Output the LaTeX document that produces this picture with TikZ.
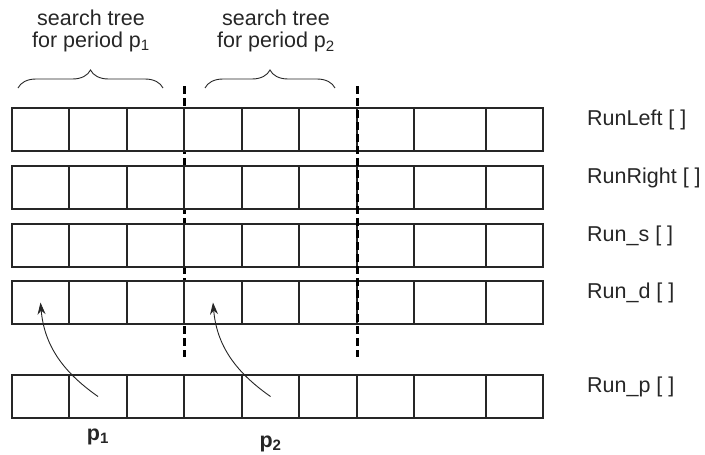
\documentclass[tikz,border=0pt]{standalone}
\usepackage{fontspec}
\setmainfont{Liberation Sans}
\usetikzlibrary{arrows.meta}
\usetikzlibrary{decorations.pathreplacing}
\usetikzlibrary{calc,positioning}

\begin{document}
\begin{tikzpicture}[x=1pt, y=1pt]
	\tikzstyle{cell}=[draw=black!85, fill=white, line width=1.1pt, rectangle,
	inner sep=0, outer sep=0, minimum height=43pt, anchor=north west]
	\tikzstyle{txt}=[inner sep=0, font=\fontsize{21.5}{22}\selectfont, text=black!85]
	\tikzstyle{divider}=[black, line width=3pt, dash pattern=on 8pt off 4pt]
	\tikzstyle{link}=[black!85, line width=0.9pt, -{Stealth[length=12pt, width=8pt]}]
	\tikzstyle{curly}=[black!85, line width=0.9pt, decorate,
	decoration={brace, amplitude=18pt}]
	\useasboundingbox (0,0) rectangle (705,-455);

	% first divider goes under the cells
	\coordinate (div1top) at (184,-86);
	\coordinate (div1bot) at (184,-357);
	\draw[divider] (div1top) -- (div1bot);

	\foreach \r/\top in {1/108, 2/166, 3/224, 4/281, 5/375} {
		\foreach \c/\xa/\xb in {1/12/69, 2/69/127, 3/127/184, 4/184/242, 5/242/299,
			6/299/357, 7/357/414, 8/414/486, 9/486/543} {
			\pgfmathsetmacro\w{\xb-\xa}
			\node[cell, minimum width=\w pt] (r\r-\c) at (\xa,-\top) {};
		}
	}

	% second divider goes over them
	\draw[divider] ([yshift=22pt]r1-7.north west) -- ([yshift=-33pt]r4-7.south west);

	\node[txt, anchor=base west] (runleft) at ([xshift=44pt, yshift=4pt]r1-9.east) {RunLeft [ ]};
	\node[txt, anchor=base west] (runright) at ([xshift=44pt, yshift=4pt]r2-9.east) {RunRight [ ]};
	\node[txt, anchor=base west] (runs) at ([xshift=44pt, yshift=4pt]r3-9.east) {Run\_s [ ]};
	\node[txt, anchor=base west] (rund) at ([xshift=44pt, yshift=4pt]r4-9.east) {Run\_d [ ]};
	\node[txt, anchor=base west] (runp) at ([xshift=44pt, yshift=4pt]r5-9.east) {Run\_p [ ]};

	\draw[curly] (18,-88) -- (163,-88);
	\draw[curly] (205,-88) -- (335,-88);
	\node[txt, align=center, anchor=north] (tree1) at (91,-10) {search tree\\for period p\textsubscript{1}};
	\node[txt, align=center, anchor=north] (tree2) at (276,-10) {search tree\\for period p\textsubscript{2}};

	\draw[link] (r5-2.center) to[out=145, in=-85] (r4-1.center);
	\draw[link] (r5-5.center) to[out=145, in=-85] (r4-4.center);
	\node[txt, anchor=base] (p1) at ([yshift=-22pt]r5-2.south) {\textbf{p\textsubscript{1}}};
	\node[txt, anchor=base] (p2) at ([yshift=-29pt]r5-5.south) {\textbf{p\textsubscript{2}}};
\end{tikzpicture}
\end{document}
